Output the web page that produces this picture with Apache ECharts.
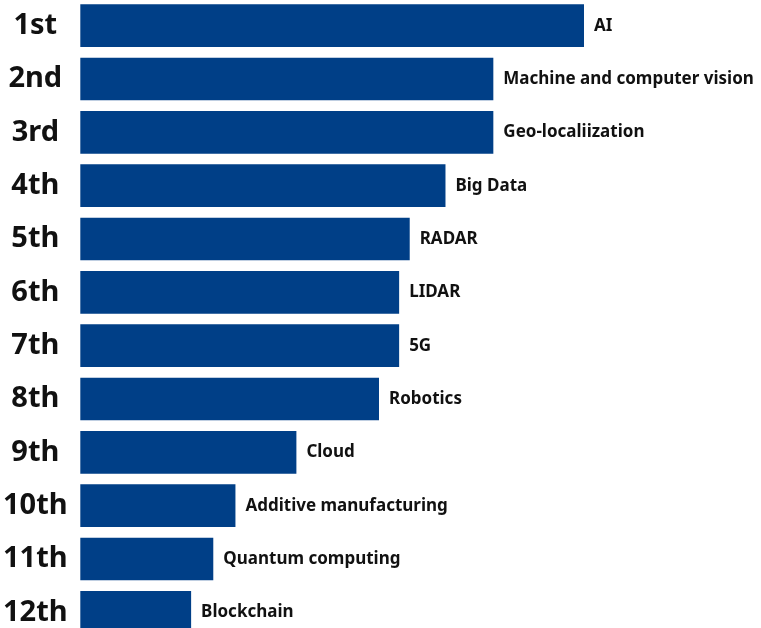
<!DOCTYPE html>
<html>
<head>
<meta charset="utf-8">
<script src="https://cdn.jsdelivr.net/npm/echarts@6/dist/echarts.min.js"></script>
<style>
  html, body { margin: 0; padding: 0; background: #ffffff; overflow: hidden; width: 761px; height: 628px; }
  /* the chart is a little taller than the page so the last row runs past the bottom edge */
  #chart { position: absolute; left: 0; top: -1px; width: 761px; height: 640px; }
</style>
</head>
<body>
<div id="chart"></div>
<script>
// Technology ranking, top to bottom
const ranks = ['1st', '2nd', '3rd', '4th', '5th', '6th', '7th', '8th', '9th', '10th', '11th', '12th'];
const technologies = [
  'AI', 'Machine and computer vision', 'Geo-localiization', 'Big Data', 'RADAR', 'LIDAR',
  '5G', 'Robotics', 'Cloud', 'Additive manufacturing', 'Quantum computing', 'Blockchain'
];
// Relative score (AI = 100)
const scores = [100, 82, 82, 72.5, 65.4, 63.3, 63.3, 59.3, 42.9, 30.8, 26.4, 22.0];

const chart = echarts.init(document.getElementById('chart'));

chart.setOption({
  animation: false,
  grid: { left: 80, right: 177, top: 0, bottom: 0, containLabel: false },
  xAxis: {
    type: 'value',
    min: 0,
    max: 100,
    show: false
  },
  yAxis: {
    type: 'category',
    inverse: true,
    data: ranks,
    axisLine: { show: false },
    axisTick: { show: false },
    axisLabel: {
      margin: 45,
      align: 'center',
      fontFamily: 'Noto Sans',
      fontWeight: 'bold',
      fontSize: 29,
      color: '#111111'
    }
  },
  series: [{
    type: 'bar',
    data: scores,
    barCategoryGap: '20%',
    itemStyle: { color: '#003f87' },
    label: {
      show: true,
      position: 'right',
      distance: 10,
      fontFamily: 'Noto Sans',
      fontWeight: 'bold',
      fontSize: 17,
      color: '#111111',
      formatter: p => technologies[p.dataIndex]
    }
  }]
});
</script>
</body>
</html>
